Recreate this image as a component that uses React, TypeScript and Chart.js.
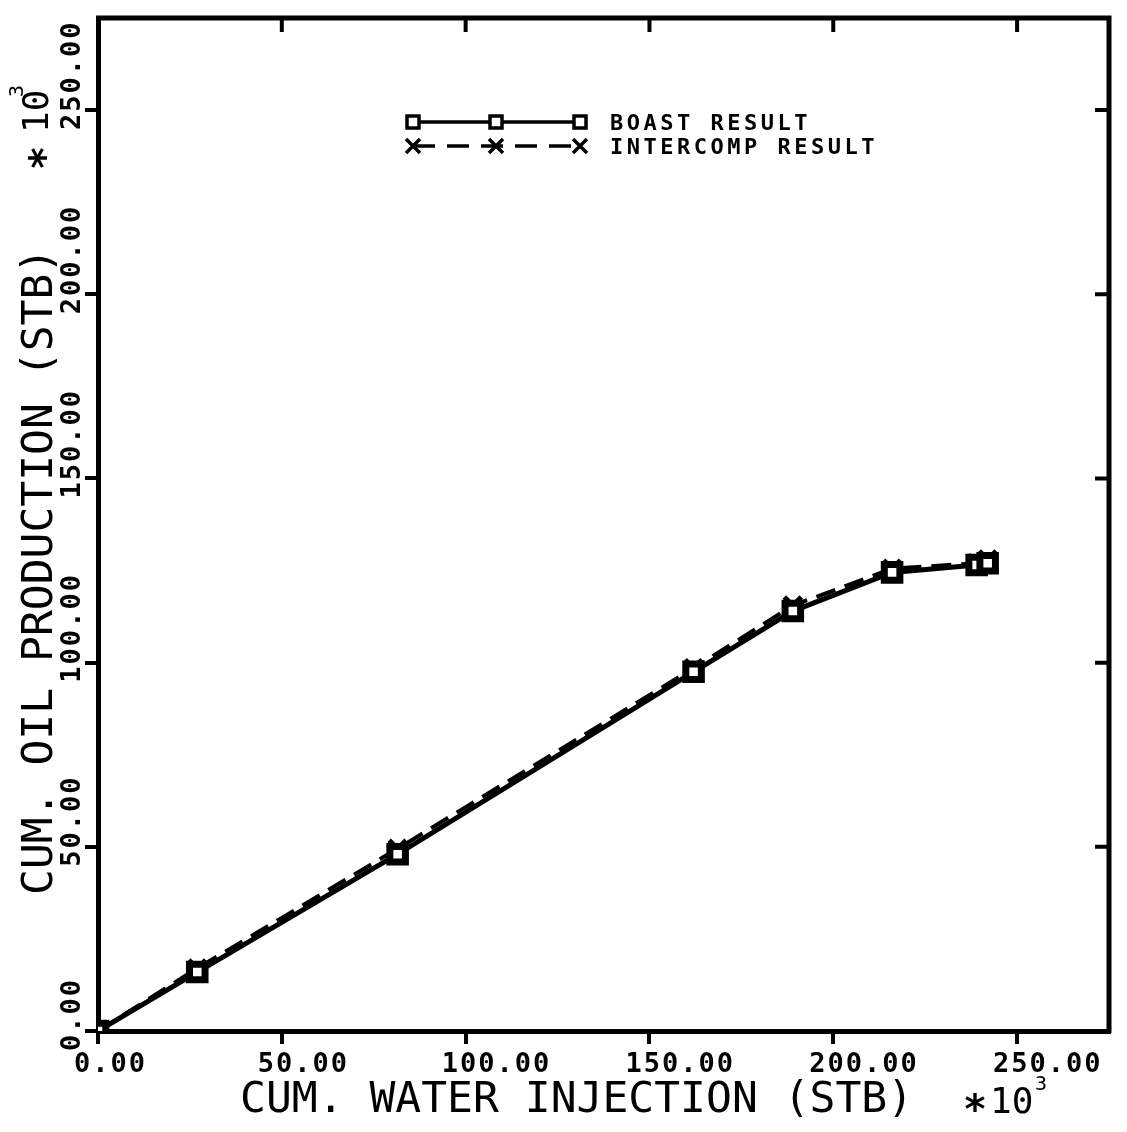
import React, { useEffect, useRef } from "react";
import { Chart, registerables } from "chart.js";

Chart.register(...registerables);

// ---- data ----
const xTickValues = [0, 50, 100, 150, 200, 250];
const yTickValues = [0, 50, 100, 150, 200, 250];
const xTickLabels = ["0.00", "50.00", "100.00", "150.00", "200.00", "250.00"];
const yTickLabels = ["0.00", "50.00", "100.00", "150.00", "200.00", "250.00"];
const waterInjection = [0, 27, 81.5, 162, 189, 216, 239, 242];
const boastOil = [0, 16, 48, 97.5, 114, 124.5, 126.5, 127];
const intercompOil = [0, 17, 49.5, 98.5, 115.5, 125.5, 127, 128];
const seriesNames = ["BOAST RESULT", "INTERCOMP RESULT"];
const xTitle = "CUM. WATER INJECTION (STB)";
const yTitle = "CUM. OIL PRODUCTION (STB)";
const multiplierBase = "10";
const multiplierExp = "3";
const axisMin = 0;
const axisMax = 275;

const MONO = '"DejaVu Sans Mono"';

function setSpacing(ctx: any, px: number) {
  try {
    ctx.letterSpacing = px + "px";
  } catch (e) {}
}

const decorPlugin = {
  id: "decor",
  afterDraw(chart: any) {
    const { ctx, chartArea, scales } = chart;
    const { left, top, right, bottom } = chartArea;
    const xs = scales.x;
    const ys = scales.y;
    ctx.save();
    ctx.strokeStyle = "#000";
    ctx.fillStyle = "#000";

    // top & right frame
    ctx.lineWidth = 5;
    ctx.beginPath();
    ctx.moveTo(left - 2, top);
    ctx.lineTo(right, top);
    ctx.lineTo(right, bottom + 2);
    ctx.stroke();

    // inward ticks on top and right
    ctx.lineWidth = 4;
    ctx.beginPath();
    xTickValues.forEach((v) => {
      const px = xs.getPixelForValue(v);
      ctx.moveTo(px, top);
      ctx.lineTo(px, top + 14);
    });
    yTickValues.forEach((v) => {
      const py = ys.getPixelForValue(v);
      ctx.moveTo(right, py);
      ctx.lineTo(right - 14, py);
    });
    ctx.stroke();

    // x tick labels
    ctx.font = `bold 27px ${MONO}`;
    setSpacing(ctx, 2);
    ctx.textAlign = "left";
    ctx.textBaseline = "alphabetic";
    xTickValues.forEach((v, i) => {
      const px = xs.getPixelForValue(v);
      ctx.fillText(xTickLabels[i], px - 24, bottom + 41);
    });

    // y tick labels (rotated)
    yTickValues.forEach((v, i) => {
      const py = ys.getPixelForValue(v);
      ctx.save();
      ctx.translate(left - 18, py + 20);
      ctx.rotate(-Math.PI / 2);
      ctx.fillText(yTickLabels[i], 0, 0);
      ctx.restore();
    });

    // axis titles
    ctx.font = `43px ${MONO}`;
    setSpacing(ctx, 0);
    ctx.fillText(xTitle, 240, bottom + 81);
    ctx.save();
    ctx.translate(52, 895);
    ctx.rotate(-Math.PI / 2);
    ctx.fillText(yTitle, 0, 0);
    ctx.restore();

    // multipliers *10^3
    ctx.font = `bold 40px ${MONO}`;
    ctx.textAlign = "center";
    ctx.fillText("*", 975, 1123);
    ctx.textAlign = "left";
    ctx.font = `36px ${MONO}`;
    ctx.fillText(multiplierBase, 990, 1113);
    ctx.font = `20px ${MONO}`;
    ctx.fillText(multiplierExp, 1035, 1090);
    ctx.save();
    ctx.translate(48, 133);
    ctx.rotate(-Math.PI / 2);
    ctx.font = `bold 40px ${MONO}`;
    ctx.textAlign = "center";
    ctx.fillText("*", -25, 10);
    ctx.textAlign = "left";
    ctx.font = `36px ${MONO}`;
    ctx.fillText(multiplierBase, 0, 0);
    ctx.font = `20px ${MONO}`;
    ctx.fillText(multiplierExp, 36, -25);
    ctx.restore();

    // legend
    const lx = [413, 496, 580];
    const rowY = [122, 146];
    ctx.lineWidth = 3.5;
    ctx.beginPath();
    ctx.moveTo(lx[0], rowY[0]);
    ctx.lineTo(lx[2], rowY[0]);
    ctx.stroke();
    ctx.setLineDash([22, 12]);
    ctx.beginPath();
    ctx.moveTo(lx[0], rowY[1]);
    ctx.lineTo(lx[2], rowY[1]);
    ctx.stroke();
    ctx.setLineDash([]);
    lx.forEach((px) => {
      ctx.fillStyle = "#fff";
      ctx.fillRect(px - 6, rowY[0] - 6, 12, 12);
      ctx.strokeRect(px - 6, rowY[0] - 6, 12, 12);
      ctx.beginPath();
      ctx.moveTo(px - 7, rowY[1] - 7);
      ctx.lineTo(px + 7, rowY[1] + 7);
      ctx.moveTo(px + 7, rowY[1] - 7);
      ctx.lineTo(px - 7, rowY[1] + 7);
      ctx.stroke();
    });
    ctx.fillStyle = "#000";
    ctx.font = `bold 22px ${MONO}`;
    setSpacing(ctx, 3.5);
    ctx.textAlign = "left";
    ctx.fillText(seriesNames[0], 610, rowY[0] + 8);
    ctx.fillText(seriesNames[1], 610, rowY[1] + 8);
    setSpacing(ctx, 0);
    ctx.restore();
  },
};

export default function App() {
  const ref = useRef<HTMLCanvasElement | null>(null);
  useEffect(() => {
    if (!ref.current) return;
    const chart = new Chart(ref.current, {
      type: "scatter",
      data: {
        datasets: [
          {
            label: seriesNames[0],
            data: waterInjection.map((x, i) => ({ x, y: boastOil[i] })),
            showLine: true,
            borderColor: "#000",
            borderWidth: 5,
            pointStyle: "rect",
            pointRadius: 11,
            pointBorderWidth: 7,
            pointBackgroundColor: "#fff",
            pointBorderColor: "#000",
          },
          {
            label: seriesNames[1],
            data: waterInjection.map((x, i) => ({ x, y: intercompOil[i] })),
            showLine: true,
            borderColor: "#000",
            borderWidth: 4,
            borderDash: [20, 10],
            pointStyle: "crossRot",
            pointRadius: 12,
            pointBorderWidth: 5,
            pointBorderColor: "#000",
          },
        ],
      },
      options: {
        responsive: false,
        animation: false,
        layout: { padding: { top: 18, right: 8, left: 0, bottom: 0 } },
        plugins: { legend: { display: false }, tooltip: { enabled: false } },
        scales: {
          x: {
            type: "linear",
            min: axisMin,
            max: axisMax,
            afterBuildTicks: (s: any) => {
              s.ticks = xTickValues.map((v) => ({ value: v }));
            },
            afterFit: (s: any) => {
              s.height = 101;
            },
            ticks: { display: false },
            grid: { drawOnChartArea: false, drawTicks: true, tickLength: 13, lineWidth: 4, color: "#000" },
            border: { display: true, width: 5, color: "#000" },
          },
          y: {
            type: "linear",
            min: axisMin,
            max: axisMax,
            afterBuildTicks: (s: any) => {
              s.ticks = yTickValues.map((v) => ({ value: v }));
            },
            afterFit: (s: any) => {
              s.width = 98;
            },
            ticks: { display: false },
            grid: { drawOnChartArea: false, drawTicks: true, tickLength: 13, lineWidth: 4, color: "#000" },
            border: { display: true, width: 5, color: "#000" },
          },
        },
      },
      plugins: [decorPlugin],
    } as any);
    return () => chart.destroy();
  }, []);
  return (
    <canvas
      ref={ref}
      width={1127}
      height={1132}
      style={{ position: "absolute", left: 0, top: 0, display: "block", background: "#fff" }}
    />
  );
}
